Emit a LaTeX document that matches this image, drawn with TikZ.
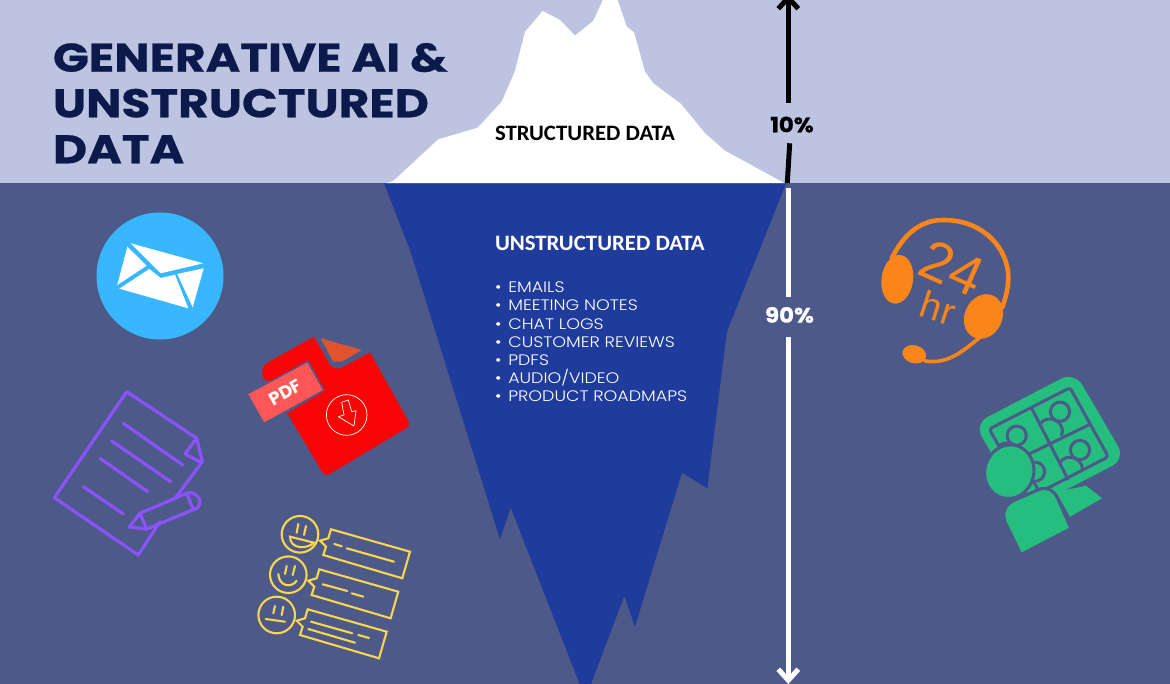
\documentclass[tikz,border=0pt]{standalone}
\usepackage{fontspec}
\usetikzlibrary{arrows.meta}
\setmainfont{Poppins}
\newfontfamily\carlito[FakeStretch=1.035]{Carlito}
\newfontfamily\lib{Liberation Sans}
\newfontfamily\titlefont[FakeStretch=1.175,BoldFeatures={FakeStretch=1.175,FakeBold=0.6}]{Poppins}
\newfontfamily\pctfont[FakeStretch=1.09,BoldFeatures={FakeStretch=1.09,FakeBold=0.6}]{Poppins}
\newfontfamily\listfont[FakeStretch=1.15]{Poppins Light}
\definecolor{skybg}{HTML}{BCC4E2}
\definecolor{seabg}{HTML}{4D5A89}
\definecolor{berg}{HTML}{1F3C9C}
\definecolor{navy}{HTML}{0B1A4A}
\definecolor{mailblue}{HTML}{38B6FF}
\definecolor{pdfred}{HTML}{FA0505}
\definecolor{tagred}{HTML}{FF5757}
\definecolor{foldred}{HTML}{E0532F}
\definecolor{docpurple}{HTML}{8C52FF}
\definecolor{faceyellow}{HTML}{F8D64E}
\definecolor{headorange}{HTML}{FB8519}
\definecolor{meetgreen}{HTML}{25BE7F}
\tikzset{
  txt/.style={anchor=base west,inner sep=0pt,outer sep=0pt},
  titletxt/.style={txt,text=navy,font=\titlefont\fontsize{40}{40}\selectfont\bfseries},
  listtxt/.style={txt,text=white,font=\listfont\fontsize{15.2}{15.2}\selectfont},
  pcttxt/.style={anchor=base,inner sep=0pt,font=\pctfont\fontsize{21}{21}\selectfont\bfseries},
  purp/.style={draw=docpurple,line width=3.1pt,line cap=round,line join=round},
  yel/.style={draw=faceyellow,line width=2.1pt,line cap=round,line join=miter},
  grn/.style={fill=meetgreen,draw=seabg,line width=3pt},
  gridln/.style={draw=seabg,line width=3pt},
  org/.style={draw=headorange,line cap=round},
  measure/.style={line width=5pt,-{Straight Barb[length=11pt,width=20pt,line width=5pt]}},
}
\begin{document}
\begin{tikzpicture}[x=1pt,y=-1pt]
\useasboundingbox (0,0) rectangle (1170,684);
\clip (0,0) rectangle (1170,684);
\fill[skybg] (0,0) rectangle (1170,183);
\fill[seabg] (0,183) rectangle (1170,684);
% iceberg
\fill[white] (385,183.5)--(393.3,181)--(438.3,139.3)--(477.7,127.7)--(501.7,101.7)--(515,71)--(525,31.7)--(542.7,11)--(560,20)--(575,35.7)--(593.3,20.7)--(603.3,-1)--(617.3,-1)--(626.7,26.7)--(634,32.3)--(645,71.7)--(653.3,83.3)--(681,104)--(705,133.3)--(725,150.7)--(785,183.5)--cycle;
\fill[berg] (384,183.5)--(410,250)--(500,539.3)--(510.7,507.7)--(580,685)--(590.7,685)--(624.3,596)--(635,626.7)--(682,472.7)--(707.3,488.3)--(726.7,333.3)--(728.3,328.3)--(786,183.5)--cycle;
% title
\node[titletxt] (t1) at (53,71.7) {GENERATIVE AI \&};
\node[titletxt] (t2) at (53,117.3) {UNSTRUCTURED};
\node[titletxt] (t3) at (53,163.3) {DATA};
% iceberg labels
\node[txt,text=black,font=\carlito\fontsize{22}{22}\selectfont\bfseries] (sd) at (495,141) {STRUCTURED DATA};
\node[txt,text=white,font=\carlito\fontsize{22}{22}\selectfont\bfseries] (ud) at (495,250.7) {UNSTRUCTURED DATA};
\node[listtxt] (l1) at (495,292.7) {\makebox[13.3pt][l]{•}EMAILS};
\node[listtxt] (l2) at (495,310.9) {\makebox[13.3pt][l]{•}MEETING NOTES};
\node[listtxt] (l3) at (495,329.1) {\makebox[13.3pt][l]{•}CHAT LOGS};
\node[listtxt] (l4) at (495,347.3) {\makebox[13.3pt][l]{•}CUSTOMER REVIEWS};
\node[listtxt] (l5) at (495,365.5) {\makebox[13.3pt][l]{•}PDFS};
\node[listtxt] (l6) at (495,383.7) {\makebox[13.3pt][l]{•}AUDIO/VIDEO};
\node[listtxt] (l7) at (495,401.9) {\makebox[13.3pt][l]{•}PRODUCT ROADMAPS};
% measure arrows
\coordinate (tipup) at (788.3,-6);
\coordinate (upa) at (788.3,103);
\coordinate (upb) at (789.7,143.3);
\coordinate (upc) at (787.3,183);
\coordinate (dnb) at (788.3,188.3);
\coordinate (dnc) at (788.3,296.7);
\coordinate (dnd) at (788.3,337.3);
\coordinate (tipdn) at (788.3,684);
\node[pcttxt,text=black] (p10) at (792,132.3) {10\%};
\node[pcttxt,text=white] (p90) at (789.5,322.7) {90\%};
\draw[measure,draw=black] (upa) -- (tipup);
\draw[line width=5pt,draw=black] (upb) -- (upc);
\draw[line width=5pt,draw=white] (dnb) -- (dnc);
\draw[measure,draw=white] (dnd) -- (tipdn);
% mail
\fill[mailblue] (160,276) circle[radius=63.5pt];
\fill[white] (130.7,243.3)--(203.3,263.3)--(160.7,273.3)--cycle;
\fill[white] (127.3,246.7)--(146.7,265.7)--(117.3,285)--cycle;
\fill[white] (119.3,288.7)--(149.3,269)--(160.7,278)--(175,274.7)--(188.3,308.3)--cycle;
\fill[white] (177.3,274)--(203.7,268.3)--(192.7,307.3)--cycle;
% pdf
\fill[pdfred] (314,336.7)--(327.3,360) .. controls (331,368) and (336,370.5) .. (342,367.5)--(370,352.3)--(406,416.8) .. controls (410.9,425.5) and (410.9,425.5) .. (402.4,430.6)--(333.6,471.7) .. controls (325,476.8) and (325,476.8) .. (320,468.4)--(287.3,413.3)--(325,390.7)--(308.3,360)--(270,381) .. controls (263,384) and (258,369) .. (267.3,362.7)--cycle;
\fill[foldred] (320.7,338.3)--(361.7,350)--(341.7,361.7)--(333.3,361.7)--cycle;
\fill[tagred] (248.3,394.3)--(307.3,362.7)--(322.7,390)--(264.3,422.3)--cycle;
\node[anchor=center,inner sep=0pt,text=white,rotate=29,font=\fontsize{18}{18}\selectfont\bfseries] (pdf) at (285.5,392.5) {PDF};
\draw[white,line width=.7pt] (346.7,415) circle[radius=20.3pt];
\draw[white,line width=.7pt,line join=round] (341.7,402.3)--(348.3,400)--(351.7,411.7)--(356,410.7)--(354,426)--(338.3,416.7)--(344,415)--cycle;
% document
\draw[purp] (175,498.3)--(202.3,461.7)--(196.7,438.3)--(126.7,391.7)--(54.3,497.7)--(138.3,555)--(160,521.7);
\draw[purp] (196.7,438.3)--(185,454)--(201.7,462.7);
\draw[purp] (123.3,423.3)--(182.7,465);
\draw[purp] (111.7,441)--(170.7,481.7);
\draw[purp] (100,458.3)--(147.7,491.7);
\draw[purp] (83.3,486.7)--(123.3,514);
\draw[purp] (129.3,527)--(140,513.3)--(186.7,493.3) .. controls (196,489.5) and (205,503) .. (196.7,508.3)--(146.7,529)--cycle;
\draw[purp] (140,513.3)--(146.7,529);
\draw[purp] (186.7,493.3)--(192.7,508.3);
% faces
\draw[yel] (300,534.3) circle[radius=18.3pt];
\draw[yel] (298.3,524)--(296.7,532.7);
\draw[yel] (306,526)--(304,535);
\draw[yel] (290,536.7)--(314,542.7) .. controls (308,549) and (290,550) .. cycle;
\draw[yel] (331,529.3)--(410,551.7)--(402.3,578.3)--(323.3,555)--(326,546.7)--(320,540.7)--(328.3,538.3)--cycle;
\draw[yel] (334.3,544)--(341.7,546.3);
\draw[yel] (346.7,548.3)--(394,561.7);
\draw[yel] (288.3,574.7) circle[radius=18.3pt];
\draw[yel] (286.7,566)--(285,574);
\draw[yel] (295,566)--(292.7,575);
\draw[yel] (278.3,574) .. controls (279,587) and (292,588) .. (296.7,580.7);
\draw[yel] (319.3,569.3)--(398.3,591.7)--(390.6,618.3)--(311.6,595)--(314.3,586.7)--(308.3,580.7)--(316.6,578.3)--cycle;
\draw[yel] (322.7,584.3)--(347.3,591);
\draw[yel] (351.7,593.3)--(363.3,596.7);
\draw[yel] (276.7,615) circle[radius=18.3pt];
\draw[yel] (275,606)--(273.3,613.3);
\draw[yel] (283.3,606.7)--(281.7,615);
\draw[yel] (265.7,619)--(285,621.7);
\draw[yel] (307.7,609.3)--(386.7,631.7)--(379,658.3)--(300,635)--(302.7,626.7)--(296.7,620.7)--(305,618.3)--cycle;
\draw[yel] (311,621.7)--(352.3,633.3);
\draw[yel] (358.3,635)--(369,638);
\draw[yel] (308.3,629)--(355,642.7);
% headset
\draw[org,line width=4.6pt] (891.7,258.3) .. controls (905,232) and (922,220) .. (943.3,220) .. controls (985,220) and (1008,250) .. (1008.3,276.7) .. controls (1008.5,290) and (1005,298) .. (1002.7,306.7);
\fill[headorange] (897.3,279.3) ellipse[x radius=15.8pt,y radius=24.5pt,rotate=-8];
\fill[headorange] (983.5,316.5) ellipse[x radius=18.8pt,y radius=23pt,rotate=-25];
\draw[org,line width=3.6pt] (981.7,336) .. controls (966,348) and (950,365) .. (925,361);
\fill[headorange] (914.3,354.3) ellipse[x radius=12pt,y radius=9pt,rotate=-15];
\node[anchor=center,inner sep=0pt,text=headorange,rotate=-24,font=\lib\fontsize{56}{56}\selectfont] (h24) at (952,268) {24};
\node[anchor=center,inner sep=0pt,text=headorange,rotate=-18,font=\lib\fontsize{38}{38}\selectfont] (hhr) at (938.3,308) {hr};
% meeting
\fill[meetgreen,rounded corners=15pt] (974.3,423.9)--(1074.5,371.8)--(1125.5,458.9)--(1025.3,511)--cycle;
\draw[gridln,rounded corners=3pt] (1028.3,498.3)--(989.3,429)--(1070,387.7)--(1108.3,456.7)--cycle;
\begin{scope}
\clip (1028.3,498.3)--(989.3,429)--(1070,387.7)--(1108.3,456.7)--cycle;
\foreach \hx/\hy in {1060/411.7,1016.7/435.7,1080/450,1035/471.7}{
  \begin{scope}[shift={(\hx,\hy)},rotate=-27]
    \draw[gridln] (-12,21) .. controls (-12,6) and (12,6) .. (12,21);
    \draw[gridln] (0,0) circle[radius=9.6pt];
  \end{scope}
}
\end{scope}
\draw[gridln] (1031.7,408.3)--(1068.3,480);
\draw[gridln] (1090,424.3)--(1006.7,465);
\fill[meetgreen] (1056,492)--(1086,485.7)--(1102,498.3)--(1070,516.7)--cycle;
\draw[grn] (1004,517) .. controls (1003,508) and (1008,503) .. (1015,500)--(1040,489) .. controls (1048,487) and (1054,491) .. (1057,497)--(1071,528.5)--(1021,554.5)--(1007,526) .. controls (1005,523) and (1004.5,520) .. (1004,517)--cycle;
\draw[grn] (1009.3,471.7) ellipse[x radius=24.5pt,y radius=27pt,rotate=-15];
\end{tikzpicture}
\end{document}
